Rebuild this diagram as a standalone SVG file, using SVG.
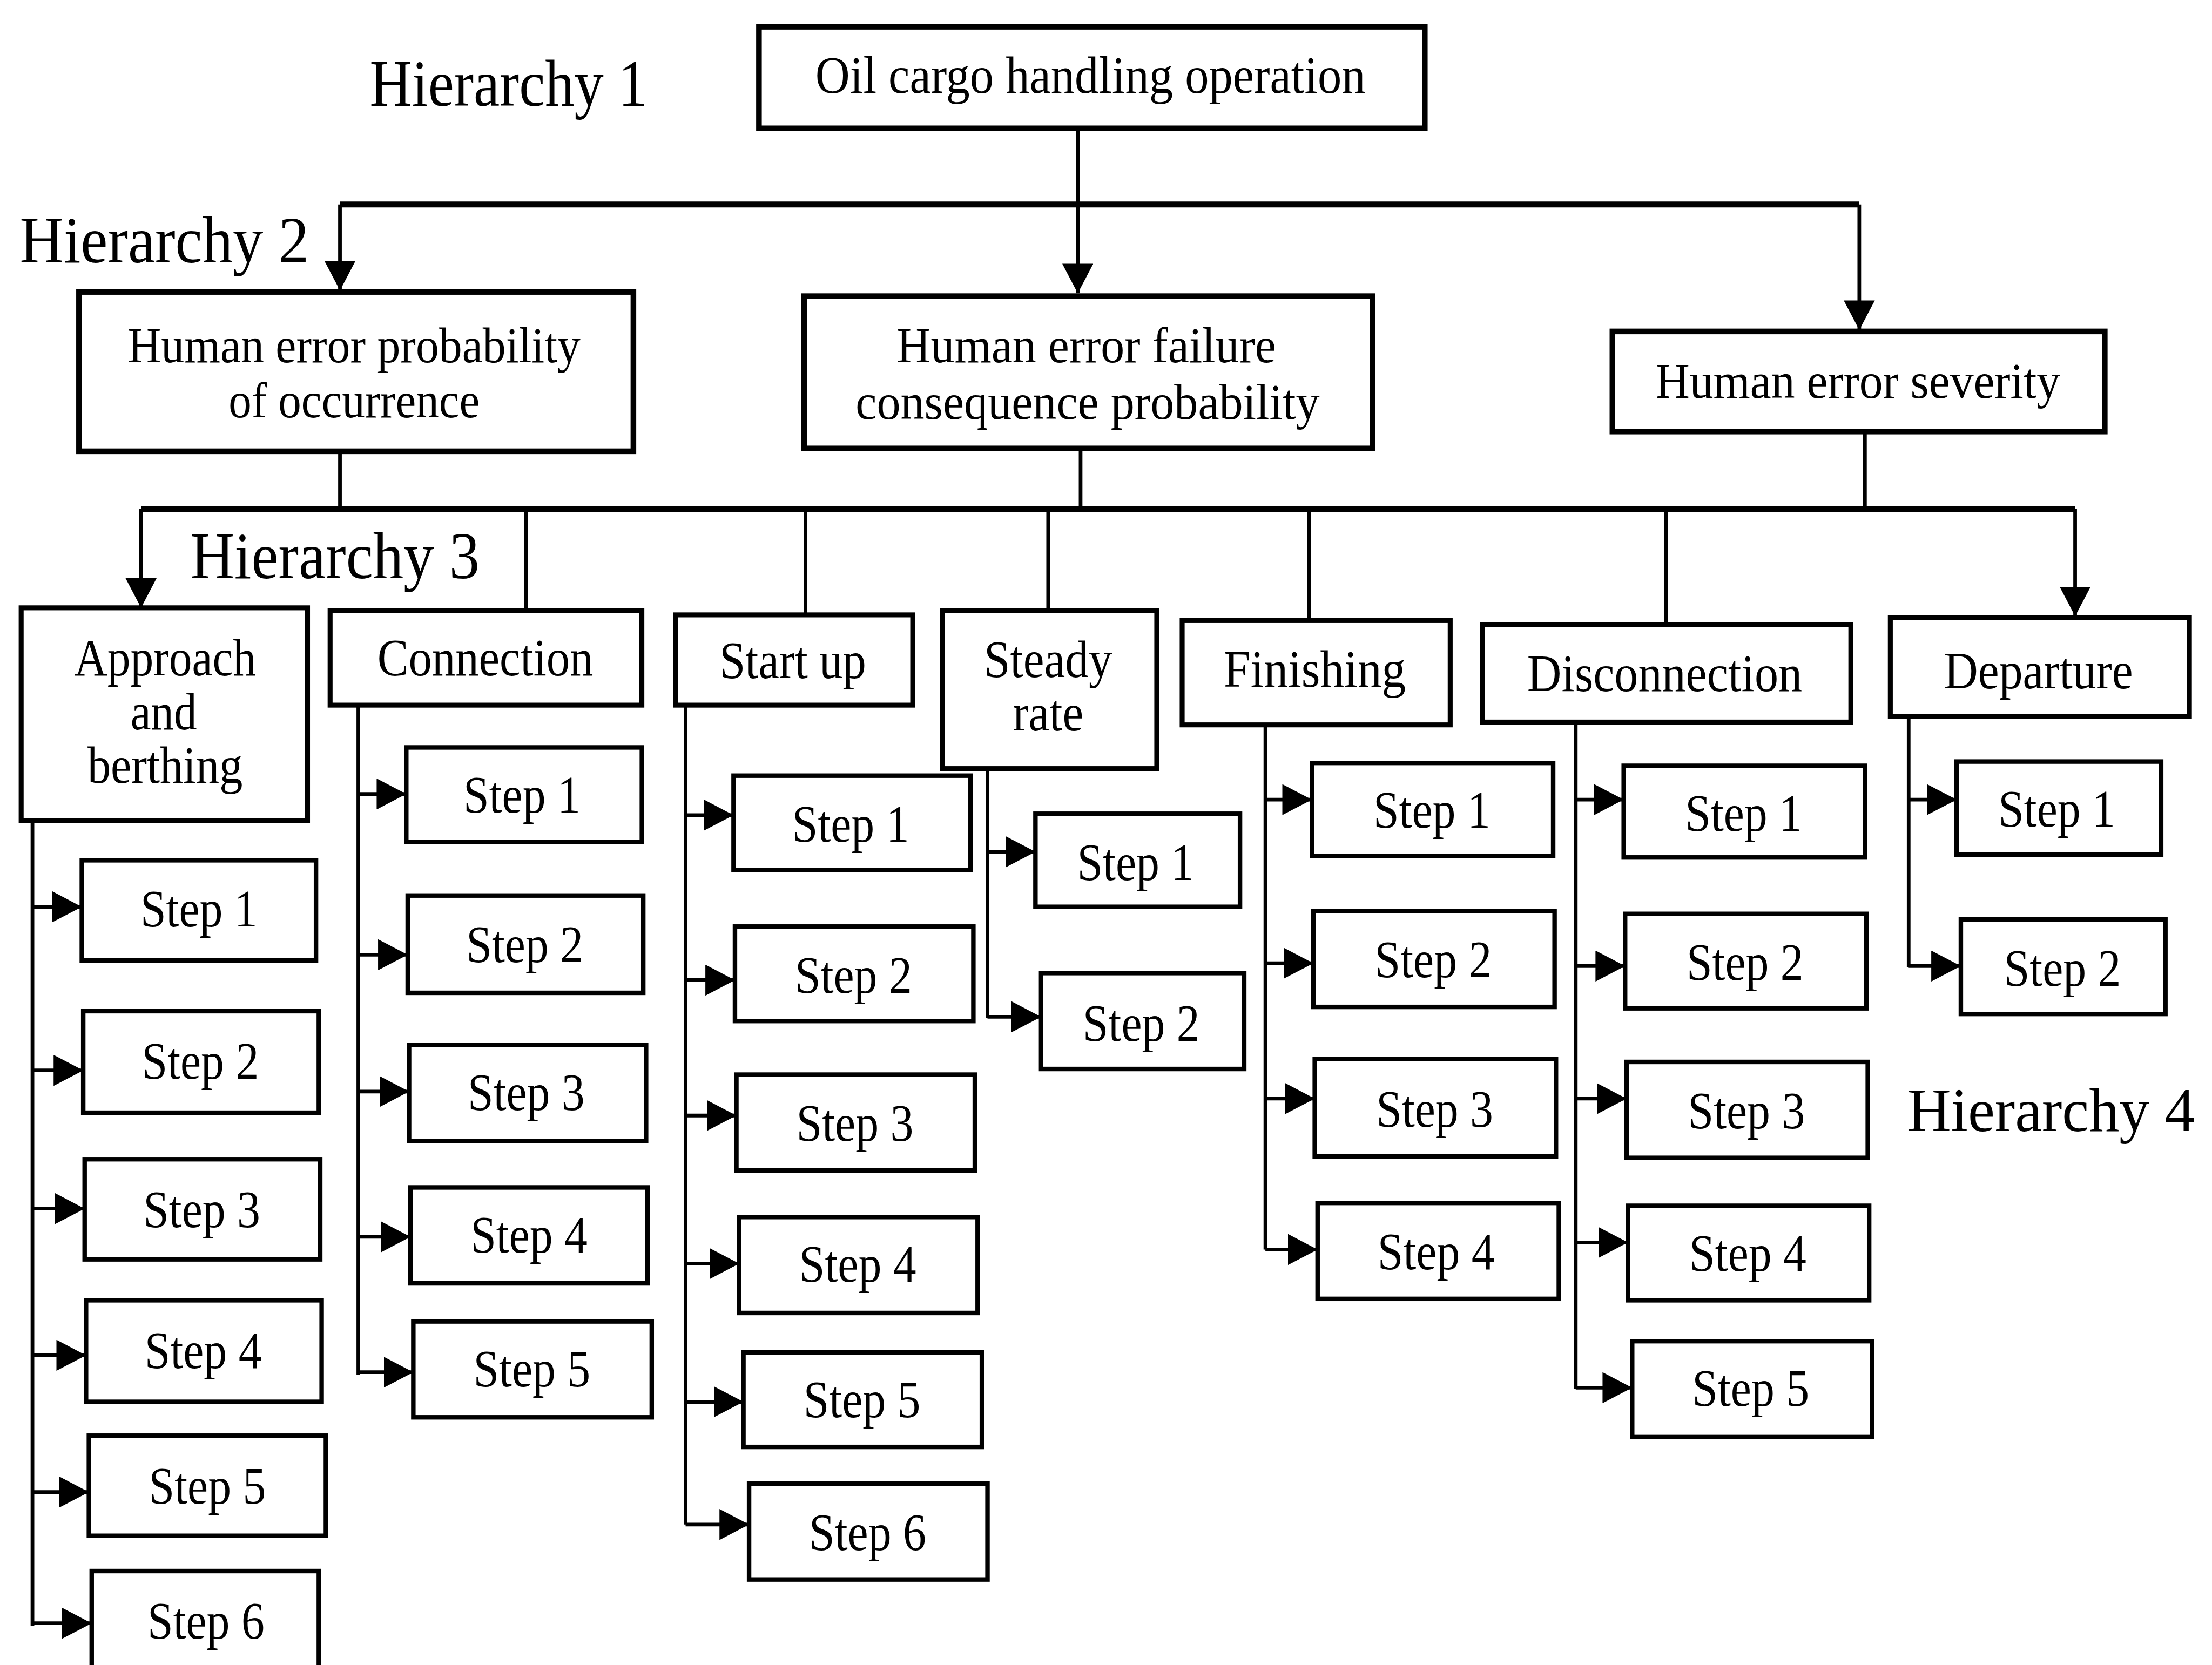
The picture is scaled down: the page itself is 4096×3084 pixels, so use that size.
<svg xmlns="http://www.w3.org/2000/svg" width="4096" height="3084" viewBox="0 0 4096 3084">
<style>
.box{fill:#fff;stroke:#000;stroke-width:4}
.hbox{fill:#fff;stroke:#000;stroke-width:3.5}
.sbox{fill:#fff;stroke:#000;stroke-width:3.2}
.ln{fill:none;stroke:#000;stroke-width:2.6}
.bar{fill:none;stroke:#000;stroke-width:4.2}
.arr{marker-end:url(#ah)}
text{font-family:"Liberation Serif","Times New Roman",serif;fill:#000}
.c{text-anchor:middle}
.st{font-size:37px;text-anchor:middle}
.lb{font-size:37px;text-anchor:middle}
.hl{font-size:47px}
</style>
<defs>
<marker id="ah" markerUnits="userSpaceOnUse" viewBox="0 0 21 22" refX="21" refY="11" markerWidth="21" markerHeight="22" orient="auto">
<path d="M0,0 L21,11 L0,22 Z" fill="#000"/>
</marker>
</defs>
<rect x="0" y="0" width="4096" height="3084" fill="#fff"/>
<g transform="scale(2.6122)">

<g id="hierarchy-labels">
<text class="hl" x="262" y="75" textLength="197" lengthAdjust="spacingAndGlyphs">Hierarchy 1</text>
<text class="hl" x="14" y="186" textLength="205" lengthAdjust="spacingAndGlyphs">Hierarchy 2</text>
<text class="hl" x="135" y="410" textLength="205" lengthAdjust="spacingAndGlyphs">Hierarchy 3</text>
<text x="1352" y="802" font-size="44" textLength="204" lengthAdjust="spacingAndGlyphs">Hierarchy 4</text>
</g>

<g id="connectors">
<!-- H1 to H2 -->
<path class="ln arr" d="M764,91 V208"/>
<path class="bar" d="M241,145 H1318"/>
<path class="ln arr" d="M241,145 V206"/>
<path class="ln arr" d="M1318,145 V234"/>
<!-- H2 to H3 -->
<path class="ln" d="M241,320 V361"/>
<path class="ln" d="M766,318 V361"/>
<path class="ln" d="M1322,306 V361"/>
<path class="bar" d="M100,361 H1471"/>
<path class="ln arr" d="M100,361 V431"/>
<path class="ln arr" d="M1471,361 V437"/>
<path class="ln" d="M373,361 V433"/>
<path class="ln" d="M571,361 V436"/>
<path class="ln" d="M743,361 V433"/>
<path class="ln" d="M928,361 V440"/>
<path class="ln" d="M1181,361 V443"/>
<!-- trunks -->
<path class="ln" d="M23,582 V1153"/>
<path class="ln" d="M254,500 V975"/>
<path class="ln" d="M486,500 V1081"/>
<path class="ln" d="M700,545 V722"/>
<path class="ln" d="M897,514 V886"/>
<path class="ln" d="M1117,512 V985"/>
<path class="ln" d="M1353,508 V686"/>
<!-- approach steps -->
<path class="ln arr" d="M23,643 H58"/>
<path class="ln arr" d="M23,759 H59"/>
<path class="ln arr" d="M23,857 H60"/>
<path class="ln arr" d="M23,961 H61"/>
<path class="ln arr" d="M23,1058 H63"/>
<path class="ln arr" d="M23,1151 H65"/>
<!-- connection steps -->
<path class="ln arr" d="M254,563 H288"/>
<path class="ln arr" d="M254,677 H289"/>
<path class="ln arr" d="M254,774 H290"/>
<path class="ln arr" d="M254,877 H291"/>
<path class="ln arr" d="M254,973 H293"/>
<!-- start up steps -->
<path class="ln arr" d="M486,578 H520"/>
<path class="ln arr" d="M486,695 H521"/>
<path class="ln arr" d="M486,791 H522"/>
<path class="ln arr" d="M486,896 H524"/>
<path class="ln arr" d="M486,994 H527"/>
<path class="ln arr" d="M486,1081 H531"/>
<!-- steady rate steps -->
<path class="ln arr" d="M700,604 H734"/>
<path class="ln arr" d="M700,721 H738"/>
<!-- finishing steps -->
<path class="ln arr" d="M897,567 H930"/>
<path class="ln arr" d="M897,683 H931"/>
<path class="ln arr" d="M897,779 H932"/>
<path class="ln arr" d="M897,886 H934"/>
<!-- disconnection steps -->
<path class="ln arr" d="M1117,567 H1151"/>
<path class="ln arr" d="M1117,685 H1152"/>
<path class="ln arr" d="M1117,779 H1153"/>
<path class="ln arr" d="M1117,881 H1154"/>
<path class="ln arr" d="M1117,984 H1157"/>
<!-- departure steps -->
<path class="ln arr" d="M1353,567 H1387"/>
<path class="ln arr" d="M1353,685 H1390"/>
</g>

<g id="oil-cargo-handling-operation">
<rect class="box" x="538" y="19" width="472" height="72"/>
<text class="c" x="773" y="66" font-size="37" textLength="390" lengthAdjust="spacingAndGlyphs">Oil cargo handling operation</text>
</g>

<g id="human-error-probability">
<rect class="box" x="56" y="207" width="393" height="113"/>
<text class="c" x="251" y="257" font-size="36" textLength="321" lengthAdjust="spacingAndGlyphs">Human error probability</text>
<text class="c" x="251" y="296" font-size="36" textLength="178" lengthAdjust="spacingAndGlyphs">of occurrence</text>
</g>

<g id="human-error-failure-consequence">
<rect class="box" x="570" y="210" width="403" height="108"/>
<text class="c" x="770" y="257" font-size="36" textLength="269" lengthAdjust="spacingAndGlyphs">Human error failure</text>
<text class="c" x="771" y="297" font-size="36" textLength="329" lengthAdjust="spacingAndGlyphs">consequence probability</text>
</g>

<g id="human-error-severity">
<rect class="box" x="1143" y="235" width="349" height="71"/>
<text class="c" x="1317" y="282" font-size="36" textLength="287" lengthAdjust="spacingAndGlyphs">Human error severity</text>
</g>

<g id="approach-and-berthing">
<rect class="hbox" x="15" y="431" width="203" height="151"/>
<text class="lb" x="117" y="479" textLength="129" lengthAdjust="spacingAndGlyphs">Approach</text>
<text class="lb" x="116" y="517" textLength="47" lengthAdjust="spacingAndGlyphs">and</text>
<text class="lb" x="117" y="555" textLength="110" lengthAdjust="spacingAndGlyphs">berthing</text>
</g>

<g id="connection">
<rect class="hbox" x="234" y="433" width="221" height="67"/>
<text class="lb" x="344" y="479" textLength="153" lengthAdjust="spacingAndGlyphs">Connection</text>
</g>

<g id="start-up">
<rect class="hbox" x="479" y="436" width="168" height="64"/>
<text class="lb" x="562" y="481" textLength="104" lengthAdjust="spacingAndGlyphs">Start up</text>
</g>

<g id="steady-rate">
<rect class="hbox" x="668" y="433" width="152" height="112"/>
<text class="lb" x="743" y="480" textLength="91" lengthAdjust="spacingAndGlyphs">Steady</text>
<text class="lb" x="743" y="518" textLength="50" lengthAdjust="spacingAndGlyphs">rate</text>
</g>

<g id="finishing">
<rect class="hbox" x="838" y="440" width="190" height="74"/>
<text class="lb" x="932" y="487" textLength="129" lengthAdjust="spacingAndGlyphs">Finishing</text>
</g>

<g id="disconnection">
<rect class="hbox" x="1051" y="443" width="261" height="69"/>
<text class="lb" x="1180" y="490" textLength="195" lengthAdjust="spacingAndGlyphs">Disconnection</text>
</g>

<g id="departure">
<rect class="hbox" x="1340" y="438" width="212" height="70"/>
<text class="lb" x="1445" y="488" textLength="134" lengthAdjust="spacingAndGlyphs">Departure</text>
</g>

<g id="approach-step-1"><rect class="sbox" x="58" y="610" width="166" height="71"/><text class="st" x="141" y="657" textLength="83" lengthAdjust="spacingAndGlyphs">Step 1</text></g>
<g id="approach-step-2"><rect class="sbox" x="59" y="717" width="167" height="72"/><text class="st" x="142" y="765" textLength="83" lengthAdjust="spacingAndGlyphs">Step 2</text></g>
<g id="approach-step-3"><rect class="sbox" x="60" y="822" width="167" height="71"/><text class="st" x="143" y="870" textLength="83" lengthAdjust="spacingAndGlyphs">Step 3</text></g>
<g id="approach-step-4"><rect class="sbox" x="61" y="922" width="167" height="72"/><text class="st" x="144" y="970" textLength="83" lengthAdjust="spacingAndGlyphs">Step 4</text></g>
<g id="approach-step-5"><rect class="sbox" x="63" y="1018" width="168" height="71"/><text class="st" x="147" y="1066" textLength="83" lengthAdjust="spacingAndGlyphs">Step 5</text></g>
<g id="approach-step-6"><rect class="sbox" x="65" y="1114" width="161" height="90"/><text class="st" x="146" y="1162" textLength="83" lengthAdjust="spacingAndGlyphs">Step 6</text></g>

<g id="connection-step-1"><rect class="sbox" x="288" y="530" width="167" height="67"/><text class="st" x="370" y="576" textLength="83" lengthAdjust="spacingAndGlyphs">Step 1</text></g>
<g id="connection-step-2"><rect class="sbox" x="289" y="635" width="167" height="69"/><text class="st" x="372" y="682" textLength="83" lengthAdjust="spacingAndGlyphs">Step 2</text></g>
<g id="connection-step-3"><rect class="sbox" x="290" y="741" width="168" height="68"/><text class="st" x="373" y="787" textLength="83" lengthAdjust="spacingAndGlyphs">Step 3</text></g>
<g id="connection-step-4"><rect class="sbox" x="291" y="842" width="168" height="68"/><text class="st" x="375" y="888" textLength="83" lengthAdjust="spacingAndGlyphs">Step 4</text></g>
<g id="connection-step-5"><rect class="sbox" x="293" y="937" width="169" height="68"/><text class="st" x="377" y="983" textLength="83" lengthAdjust="spacingAndGlyphs">Step 5</text></g>

<g id="startup-step-1"><rect class="sbox" x="520" y="550" width="168" height="67"/><text class="st" x="603" y="597" textLength="83" lengthAdjust="spacingAndGlyphs">Step 1</text></g>
<g id="startup-step-2"><rect class="sbox" x="521" y="657" width="169" height="67"/><text class="st" x="605" y="704" textLength="83" lengthAdjust="spacingAndGlyphs">Step 2</text></g>
<g id="startup-step-3"><rect class="sbox" x="522" y="762" width="169" height="68"/><text class="st" x="606" y="809" textLength="83" lengthAdjust="spacingAndGlyphs">Step 3</text></g>
<g id="startup-step-4"><rect class="sbox" x="524" y="863" width="169" height="68"/><text class="st" x="608" y="909" textLength="83" lengthAdjust="spacingAndGlyphs">Step 4</text></g>
<g id="startup-step-5"><rect class="sbox" x="527" y="959" width="169" height="67"/><text class="st" x="611" y="1005" textLength="83" lengthAdjust="spacingAndGlyphs">Step 5</text></g>
<g id="startup-step-6"><rect class="sbox" x="531" y="1052" width="169" height="68"/><text class="st" x="615" y="1099" textLength="83" lengthAdjust="spacingAndGlyphs">Step 6</text></g>

<g id="steady-step-1"><rect class="sbox" x="734" y="577" width="145" height="66"/><text class="st" x="805" y="624" textLength="83" lengthAdjust="spacingAndGlyphs">Step 1</text></g>
<g id="steady-step-2"><rect class="sbox" x="738" y="690" width="144" height="68"/><text class="st" x="809" y="738" textLength="83" lengthAdjust="spacingAndGlyphs">Step 2</text></g>

<g id="finishing-step-1"><rect class="sbox" x="930" y="541" width="171" height="66"/><text class="st" x="1015" y="587" textLength="83" lengthAdjust="spacingAndGlyphs">Step 1</text></g>
<g id="finishing-step-2"><rect class="sbox" x="931" y="646" width="171" height="68"/><text class="st" x="1016" y="693" textLength="83" lengthAdjust="spacingAndGlyphs">Step 2</text></g>
<g id="finishing-step-3"><rect class="sbox" x="932" y="751" width="171" height="69"/><text class="st" x="1017" y="799" textLength="83" lengthAdjust="spacingAndGlyphs">Step 3</text></g>
<g id="finishing-step-4"><rect class="sbox" x="934" y="853" width="171" height="68"/><text class="st" x="1018" y="900" textLength="83" lengthAdjust="spacingAndGlyphs">Step 4</text></g>

<g id="disconnection-step-1"><rect class="sbox" x="1151" y="543" width="171" height="65"/><text class="st" x="1236" y="589" textLength="83" lengthAdjust="spacingAndGlyphs">Step 1</text></g>
<g id="disconnection-step-2"><rect class="sbox" x="1152" y="648" width="171" height="67"/><text class="st" x="1237" y="695" textLength="83" lengthAdjust="spacingAndGlyphs">Step 2</text></g>
<g id="disconnection-step-3"><rect class="sbox" x="1153" y="753" width="171" height="68"/><text class="st" x="1238" y="800" textLength="83" lengthAdjust="spacingAndGlyphs">Step 3</text></g>
<g id="disconnection-step-4"><rect class="sbox" x="1154" y="855" width="171" height="67"/><text class="st" x="1239" y="901" textLength="83" lengthAdjust="spacingAndGlyphs">Step 4</text></g>
<g id="disconnection-step-5"><rect class="sbox" x="1157" y="951" width="170" height="68"/><text class="st" x="1241" y="997" textLength="83" lengthAdjust="spacingAndGlyphs">Step 5</text></g>

<g id="departure-step-1"><rect class="sbox" x="1387" y="540" width="145" height="66"/><text class="st" x="1458" y="586" textLength="83" lengthAdjust="spacingAndGlyphs">Step 1</text></g>
<g id="departure-step-2"><rect class="sbox" x="1390" y="652" width="145" height="67"/><text class="st" x="1462" y="699" textLength="83" lengthAdjust="spacingAndGlyphs">Step 2</text></g>

</g>
</svg>
